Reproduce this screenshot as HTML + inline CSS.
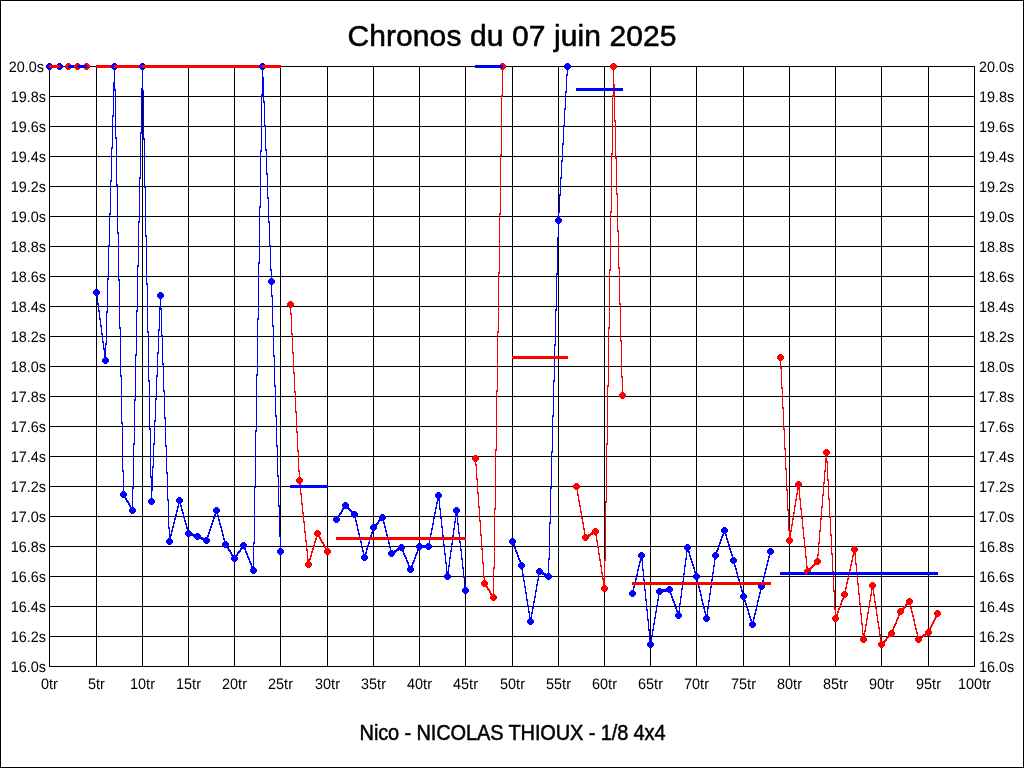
<!DOCTYPE html><html><head><meta charset="utf-8"><style>html,body{margin:0;padding:0;background:#fff;}svg{display:block}text{font-family:"Liberation Sans",sans-serif;fill:#000}</style></head><body>
<svg width="1024" height="768" viewBox="0 0 1024 768" style="will-change:transform">
<rect x="0" y="0" width="1024" height="768" fill="#fff"/>
<path d="M0 0h1024v1H0zM0 767h1024v1H0zM0 0h1v768H0zM1023 0h1v768h-1z" fill="#000"/>
<path d="M49 66h1v601h-1zM96 66h1v601h-1zM142 66h1v601h-1zM188 66h1v601h-1zM234 66h1v601h-1zM280 66h1v601h-1zM327 66h1v601h-1zM373 66h1v601h-1zM419 66h1v601h-1zM465 66h1v601h-1zM512 66h1v601h-1zM558 66h1v601h-1zM604 66h1v601h-1zM650 66h1v601h-1zM696 66h1v601h-1zM743 66h1v601h-1zM789 66h1v601h-1zM835 66h1v601h-1zM881 66h1v601h-1zM928 66h1v601h-1zM974 66h1v601h-1zM49 66h926v1h-926zM49 96h926v1h-926zM49 126h926v1h-926zM49 156h926v1h-926zM49 186h926v1h-926zM49 216h926v1h-926zM49 246h926v1h-926zM49 276h926v1h-926zM49 306h926v1h-926zM49 336h926v1h-926zM49 366h926v1h-926zM49 396h926v1h-926zM49 426h926v1h-926zM49 456h926v1h-926zM49 486h926v1h-926zM49 516h926v1h-926zM49 546h926v1h-926zM49 576h926v1h-926zM49 606h926v1h-926zM49 636h926v1h-926zM49 666h926v1h-926z" fill="#000"/>
<text text-rendering="geometricPrecision" transform="translate(44,72) scale(0.95,1.0)" font-size="15.2" text-anchor="end">20.0s</text>
<text text-rendering="geometricPrecision" transform="translate(979,72) scale(0.95,1.0)" font-size="15.2" text-anchor="start">20.0s</text>
<text text-rendering="geometricPrecision" transform="translate(46,102) scale(0.95,1.0)" font-size="15.2" text-anchor="end">19.8s</text>
<text text-rendering="geometricPrecision" transform="translate(979,102) scale(0.95,1.0)" font-size="15.2" text-anchor="start">19.8s</text>
<text text-rendering="geometricPrecision" transform="translate(46,132) scale(0.95,1.0)" font-size="15.2" text-anchor="end">19.6s</text>
<text text-rendering="geometricPrecision" transform="translate(979,132) scale(0.95,1.0)" font-size="15.2" text-anchor="start">19.6s</text>
<text text-rendering="geometricPrecision" transform="translate(46,162) scale(0.95,1.0)" font-size="15.2" text-anchor="end">19.4s</text>
<text text-rendering="geometricPrecision" transform="translate(979,162) scale(0.95,1.0)" font-size="15.2" text-anchor="start">19.4s</text>
<text text-rendering="geometricPrecision" transform="translate(46,192) scale(0.95,1.0)" font-size="15.2" text-anchor="end">19.2s</text>
<text text-rendering="geometricPrecision" transform="translate(979,192) scale(0.95,1.0)" font-size="15.2" text-anchor="start">19.2s</text>
<text text-rendering="geometricPrecision" transform="translate(46,222) scale(0.95,1.0)" font-size="15.2" text-anchor="end">19.0s</text>
<text text-rendering="geometricPrecision" transform="translate(979,222) scale(0.95,1.0)" font-size="15.2" text-anchor="start">19.0s</text>
<text text-rendering="geometricPrecision" transform="translate(46,252) scale(0.95,1.0)" font-size="15.2" text-anchor="end">18.8s</text>
<text text-rendering="geometricPrecision" transform="translate(979,252) scale(0.95,1.0)" font-size="15.2" text-anchor="start">18.8s</text>
<text text-rendering="geometricPrecision" transform="translate(46,282) scale(0.95,1.0)" font-size="15.2" text-anchor="end">18.6s</text>
<text text-rendering="geometricPrecision" transform="translate(979,282) scale(0.95,1.0)" font-size="15.2" text-anchor="start">18.6s</text>
<text text-rendering="geometricPrecision" transform="translate(46,312) scale(0.95,1.0)" font-size="15.2" text-anchor="end">18.4s</text>
<text text-rendering="geometricPrecision" transform="translate(979,312) scale(0.95,1.0)" font-size="15.2" text-anchor="start">18.4s</text>
<text text-rendering="geometricPrecision" transform="translate(46,342) scale(0.95,1.0)" font-size="15.2" text-anchor="end">18.2s</text>
<text text-rendering="geometricPrecision" transform="translate(979,342) scale(0.95,1.0)" font-size="15.2" text-anchor="start">18.2s</text>
<text text-rendering="geometricPrecision" transform="translate(46,372) scale(0.95,1.0)" font-size="15.2" text-anchor="end">18.0s</text>
<text text-rendering="geometricPrecision" transform="translate(979,372) scale(0.95,1.0)" font-size="15.2" text-anchor="start">18.0s</text>
<text text-rendering="geometricPrecision" transform="translate(46,402) scale(0.95,1.0)" font-size="15.2" text-anchor="end">17.8s</text>
<text text-rendering="geometricPrecision" transform="translate(979,402) scale(0.95,1.0)" font-size="15.2" text-anchor="start">17.8s</text>
<text text-rendering="geometricPrecision" transform="translate(46,432) scale(0.95,1.0)" font-size="15.2" text-anchor="end">17.6s</text>
<text text-rendering="geometricPrecision" transform="translate(979,432) scale(0.95,1.0)" font-size="15.2" text-anchor="start">17.6s</text>
<text text-rendering="geometricPrecision" transform="translate(46,462) scale(0.95,1.0)" font-size="15.2" text-anchor="end">17.4s</text>
<text text-rendering="geometricPrecision" transform="translate(979,462) scale(0.95,1.0)" font-size="15.2" text-anchor="start">17.4s</text>
<text text-rendering="geometricPrecision" transform="translate(46,492) scale(0.95,1.0)" font-size="15.2" text-anchor="end">17.2s</text>
<text text-rendering="geometricPrecision" transform="translate(979,492) scale(0.95,1.0)" font-size="15.2" text-anchor="start">17.2s</text>
<text text-rendering="geometricPrecision" transform="translate(46,522) scale(0.95,1.0)" font-size="15.2" text-anchor="end">17.0s</text>
<text text-rendering="geometricPrecision" transform="translate(979,522) scale(0.95,1.0)" font-size="15.2" text-anchor="start">17.0s</text>
<text text-rendering="geometricPrecision" transform="translate(46,552) scale(0.95,1.0)" font-size="15.2" text-anchor="end">16.8s</text>
<text text-rendering="geometricPrecision" transform="translate(979,552) scale(0.95,1.0)" font-size="15.2" text-anchor="start">16.8s</text>
<text text-rendering="geometricPrecision" transform="translate(46,582) scale(0.95,1.0)" font-size="15.2" text-anchor="end">16.6s</text>
<text text-rendering="geometricPrecision" transform="translate(979,582) scale(0.95,1.0)" font-size="15.2" text-anchor="start">16.6s</text>
<text text-rendering="geometricPrecision" transform="translate(46,612) scale(0.95,1.0)" font-size="15.2" text-anchor="end">16.4s</text>
<text text-rendering="geometricPrecision" transform="translate(979,612) scale(0.95,1.0)" font-size="15.2" text-anchor="start">16.4s</text>
<text text-rendering="geometricPrecision" transform="translate(46,642) scale(0.95,1.0)" font-size="15.2" text-anchor="end">16.2s</text>
<text text-rendering="geometricPrecision" transform="translate(979,642) scale(0.95,1.0)" font-size="15.2" text-anchor="start">16.2s</text>
<text text-rendering="geometricPrecision" transform="translate(46,672) scale(0.95,1.0)" font-size="15.2" text-anchor="end">16.0s</text>
<text text-rendering="geometricPrecision" transform="translate(979,672) scale(0.95,1.0)" font-size="15.2" text-anchor="start">16.0s</text>
<text text-rendering="geometricPrecision" transform="translate(49.5,689) scale(0.95,1.0)" font-size="15.2" text-anchor="middle">0tr</text>
<text text-rendering="geometricPrecision" transform="translate(96.5,689) scale(0.95,1.0)" font-size="15.2" text-anchor="middle">5tr</text>
<text text-rendering="geometricPrecision" transform="translate(142.5,689) scale(0.95,1.0)" font-size="15.2" text-anchor="middle">10tr</text>
<text text-rendering="geometricPrecision" transform="translate(188.5,689) scale(0.95,1.0)" font-size="15.2" text-anchor="middle">15tr</text>
<text text-rendering="geometricPrecision" transform="translate(234.5,689) scale(0.95,1.0)" font-size="15.2" text-anchor="middle">20tr</text>
<text text-rendering="geometricPrecision" transform="translate(280.5,689) scale(0.95,1.0)" font-size="15.2" text-anchor="middle">25tr</text>
<text text-rendering="geometricPrecision" transform="translate(327.5,689) scale(0.95,1.0)" font-size="15.2" text-anchor="middle">30tr</text>
<text text-rendering="geometricPrecision" transform="translate(373.5,689) scale(0.95,1.0)" font-size="15.2" text-anchor="middle">35tr</text>
<text text-rendering="geometricPrecision" transform="translate(419.5,689) scale(0.95,1.0)" font-size="15.2" text-anchor="middle">40tr</text>
<text text-rendering="geometricPrecision" transform="translate(465.5,689) scale(0.95,1.0)" font-size="15.2" text-anchor="middle">45tr</text>
<text text-rendering="geometricPrecision" transform="translate(512.5,689) scale(0.95,1.0)" font-size="15.2" text-anchor="middle">50tr</text>
<text text-rendering="geometricPrecision" transform="translate(558.5,689) scale(0.95,1.0)" font-size="15.2" text-anchor="middle">55tr</text>
<text text-rendering="geometricPrecision" transform="translate(604.5,689) scale(0.95,1.0)" font-size="15.2" text-anchor="middle">60tr</text>
<text text-rendering="geometricPrecision" transform="translate(650.5,689) scale(0.95,1.0)" font-size="15.2" text-anchor="middle">65tr</text>
<text text-rendering="geometricPrecision" transform="translate(696.5,689) scale(0.95,1.0)" font-size="15.2" text-anchor="middle">70tr</text>
<text text-rendering="geometricPrecision" transform="translate(743.5,689) scale(0.95,1.0)" font-size="15.2" text-anchor="middle">75tr</text>
<text text-rendering="geometricPrecision" transform="translate(789.5,689) scale(0.95,1.0)" font-size="15.2" text-anchor="middle">80tr</text>
<text text-rendering="geometricPrecision" transform="translate(835.5,689) scale(0.95,1.0)" font-size="15.2" text-anchor="middle">85tr</text>
<text text-rendering="geometricPrecision" transform="translate(881.5,689) scale(0.95,1.0)" font-size="15.2" text-anchor="middle">90tr</text>
<text text-rendering="geometricPrecision" transform="translate(928.5,689) scale(0.95,1.0)" font-size="15.2" text-anchor="middle">95tr</text>
<text text-rendering="geometricPrecision" transform="translate(974.5,689) scale(0.95,1.0)" font-size="15.2" text-anchor="middle">100tr</text>
<text transform="translate(512,46)" font-size="30" text-anchor="middle" letter-spacing="0.1" stroke="#000" stroke-width="0.55">Chronos du 07 juin 2025</text>
<text transform="translate(512.5,740) scale(1,1.07)" font-size="20" text-anchor="middle" letter-spacing="-0.12" stroke="#000" stroke-width="0.45">Nico - NICOLAS THIOUX - 1/8 4x4</text>
<path d="M49 65h1v3h-1zM50 65h1v3h-1zM51 65h1v3h-1zM52 65h1v3h-1zM53 65h1v3h-1zM54 65h1v3h-1zM55 65h1v3h-1zM56 65h1v3h-1zM57 65h1v3h-1zM58 65h1v3h-1zM59 65h1v3h-1z" fill="#0000ff"/>
<path d="M48 63h3v1h1v1h1v3h-1v1h-1v1h-3v-1h-1v-1h-1v-3h1v-1h1zM58 63h3v1h1v1h1v3h-1v1h-1v1h-3v-1h-1v-1h-1v-3h1v-1h1z" fill="#0000ff"/>
<path d="M68 65h1v3h-1zM69 65h1v3h-1zM70 65h1v3h-1zM71 65h1v3h-1zM72 65h1v3h-1zM73 65h1v3h-1zM74 65h1v3h-1zM75 65h1v3h-1zM76 65h1v3h-1zM77 65h1v3h-1zM78 65h1v3h-1zM79 65h1v3h-1zM80 65h1v3h-1zM81 65h1v3h-1zM82 65h1v3h-1zM83 65h1v3h-1zM84 65h1v3h-1zM85 65h1v3h-1zM86 65h1v3h-1z" fill="#ff0000"/>
<path d="M67 63h3v1h1v1h1v3h-1v1h-1v1h-3v-1h-1v-1h-1v-3h1v-1h1zM76 63h3v1h1v1h1v3h-1v1h-1v1h-3v-1h-1v-1h-1v-3h1v-1h1zM85 63h3v1h1v1h1v3h-1v1h-1v1h-3v-1h-1v-1h-1v-3h1v-1h1z" fill="#ff0000"/>
<path d="M96 291h1v6h-1zM97 295h1v10h-1zM98 303h1v9h-1zM99 310h1v10h-1zM100 318h1v9h-1zM101 325h1v10h-1zM102 333h1v10h-1zM103 341h1v9h-1zM104 348h1v10h-1zM105 343h1v19h-1zM106 311h1v34h-1zM107 278h1v35h-1zM108 245h1v35h-1zM109 213h1v34h-1zM110 180h1v35h-1zM111 147h1v35h-1zM112 115h1v34h-1zM113 82h1v35h-1zM114 65h1v26h-1zM115 89h1v50h-1zM116 137h1v49h-1zM117 184h1v50h-1zM118 232h1v49h-1zM119 279h1v50h-1zM120 327h1v50h-1zM121 375h1v49h-1zM122 422h1v50h-1zM123 470h1v26h-1zM124 494h1v4h-1zM125 496h1v4h-1zM126 498h1v4h-1zM127 500h1v3h-1zM128 501h1v4h-1zM129 503h1v4h-1zM130 505h1v4h-1zM131 507h1v4h-1zM132 487h1v25h-1zM133 443h1v46h-1zM134 399h1v46h-1zM135 354h1v47h-1zM136 310h1v46h-1zM137 265h1v47h-1zM138 221h1v46h-1zM139 177h1v46h-1zM140 132h1v47h-1zM141 88h1v46h-1zM142 65h1v27h-1zM143 90h1v50h-1zM144 138h1v50h-1zM145 186h1v51h-1zM146 235h1v50h-1zM147 283h1v50h-1zM148 331h1v51h-1zM149 380h1v50h-1zM150 428h1v50h-1zM151 476h1v27h-1zM152 466h1v25h-1zM153 443h1v25h-1zM154 420h1v25h-1zM155 398h1v24h-1zM156 375h1v25h-1zM157 352h1v25h-1zM158 329h1v25h-1zM159 306h1v25h-1zM160 294h1v16h-1zM161 308h1v29h-1zM162 335h1v30h-1zM163 363h1v29h-1zM164 390h1v29h-1zM165 417h1v30h-1zM166 445h1v29h-1zM167 472h1v29h-1zM168 499h1v30h-1zM169 527h1v16h-1zM170 534h1v6h-1zM171 530h1v6h-1zM172 526h1v6h-1zM173 522h1v6h-1zM174 518h1v6h-1zM175 514h1v6h-1zM176 510h1v6h-1zM177 506h1v6h-1zM178 502h1v6h-1zM179 499h1v5h-1zM180 501h1v6h-1zM181 505h1v6h-1zM182 509h1v5h-1zM183 512h1v6h-1zM184 516h1v6h-1zM185 520h1v5h-1zM186 523h1v6h-1zM187 527h1v6h-1zM188 531h1v4h-1zM189 532h1v3h-1zM190 533h1v3h-1zM191 533h1v3h-1zM192 533h1v3h-1zM193 534h1v3h-1zM194 534h1v3h-1zM195 534h1v3h-1zM196 535h1v3h-1zM197 535h1v3h-1zM198 535h1v3h-1zM199 536h1v3h-1zM200 536h1v3h-1zM201 537h1v3h-1zM202 537h1v3h-1zM203 538h1v3h-1zM204 538h1v3h-1zM205 539h1v3h-1zM206 538h1v4h-1zM207 535h1v5h-1zM208 532h1v5h-1zM209 529h1v5h-1zM210 526h1v5h-1zM211 523h1v5h-1zM212 520h1v5h-1zM213 517h1v5h-1zM214 514h1v5h-1zM215 511h1v5h-1zM216 509h1v4h-1zM217 511h1v6h-1zM218 515h1v6h-1zM219 519h1v6h-1zM220 523h1v5h-1zM221 526h1v6h-1zM222 530h1v6h-1zM223 534h1v6h-1zM224 538h1v6h-1zM225 542h1v4h-1zM226 544h1v4h-1zM227 546h1v3h-1zM228 547h1v4h-1zM229 549h1v3h-1zM230 550h1v4h-1zM231 552h1v4h-1zM232 554h1v3h-1zM233 555h1v4h-1zM234 557h1v3h-1zM235 555h1v4h-1zM236 554h1v3h-1zM237 552h1v4h-1zM238 551h1v3h-1zM239 550h1v3h-1zM240 548h1v4h-1zM241 547h1v3h-1zM242 545h1v4h-1zM243 544h1v4h-1zM244 546h1v4h-1zM245 548h1v5h-1zM246 551h1v4h-1zM247 553h1v5h-1zM248 556h1v4h-1zM249 558h1v5h-1zM250 561h1v4h-1zM251 563h1v5h-1zM252 566h1v4h-1zM253 542h1v30h-1zM254 486h1v58h-1zM255 430h1v58h-1zM256 374h1v58h-1zM257 318h1v58h-1zM258 262h1v58h-1zM259 206h1v58h-1zM260 150h1v58h-1zM261 94h1v58h-1zM262 65h1v31h-1zM263 77h1v26h-1zM264 101h1v26h-1zM265 125h1v26h-1zM266 149h1v26h-1zM267 173h1v26h-1zM268 197h1v26h-1zM269 221h1v26h-1zM270 245h1v26h-1zM271 269h1v28h-1zM272 295h1v32h-1zM273 325h1v32h-1zM274 355h1v32h-1zM275 385h1v32h-1zM276 415h1v32h-1zM277 445h1v32h-1zM278 475h1v32h-1zM279 505h1v32h-1zM280 535h1v18h-1z" fill="#0000ff"/>
<path d="M95 289h3v1h1v1h1v3h-1v1h-1v1h-3v-1h-1v-1h-1v-3h1v-1h1zM104 357h3v1h1v1h1v3h-1v1h-1v1h-3v-1h-1v-1h-1v-3h1v-1h1zM113 63h3v1h1v1h1v3h-1v1h-1v1h-3v-1h-1v-1h-1v-3h1v-1h1zM122 491h3v1h1v1h1v3h-1v1h-1v1h-3v-1h-1v-1h-1v-3h1v-1h1zM131 507h3v1h1v1h1v3h-1v1h-1v1h-3v-1h-1v-1h-1v-3h1v-1h1zM141 63h3v1h1v1h1v3h-1v1h-1v1h-3v-1h-1v-1h-1v-3h1v-1h1zM150 498h3v1h1v1h1v3h-1v1h-1v1h-3v-1h-1v-1h-1v-3h1v-1h1zM159 292h3v1h1v1h1v3h-1v1h-1v1h-3v-1h-1v-1h-1v-3h1v-1h1zM168 538h3v1h1v1h1v3h-1v1h-1v1h-3v-1h-1v-1h-1v-3h1v-1h1zM178 497h3v1h1v1h1v3h-1v1h-1v1h-3v-1h-1v-1h-1v-3h1v-1h1zM187 530h3v1h1v1h1v3h-1v1h-1v1h-3v-1h-1v-1h-1v-3h1v-1h1zM196 533h3v1h1v1h1v3h-1v1h-1v1h-3v-1h-1v-1h-1v-3h1v-1h1zM205 537h3v1h1v1h1v3h-1v1h-1v1h-3v-1h-1v-1h-1v-3h1v-1h1zM215 507h3v1h1v1h1v3h-1v1h-1v1h-3v-1h-1v-1h-1v-3h1v-1h1zM224 541h3v1h1v1h1v3h-1v1h-1v1h-3v-1h-1v-1h-1v-3h1v-1h1zM233 555h3v1h1v1h1v3h-1v1h-1v1h-3v-1h-1v-1h-1v-3h1v-1h1zM242 542h3v1h1v1h1v3h-1v1h-1v1h-3v-1h-1v-1h-1v-3h1v-1h1zM252 567h3v1h1v1h1v3h-1v1h-1v1h-3v-1h-1v-1h-1v-3h1v-1h1zM261 63h3v1h1v1h1v3h-1v1h-1v1h-3v-1h-1v-1h-1v-3h1v-1h1zM270 278h3v1h1v1h1v3h-1v1h-1v1h-3v-1h-1v-1h-1v-3h1v-1h1zM279 548h3v1h1v1h1v3h-1v1h-1v1h-3v-1h-1v-1h-1v-3h1v-1h1z" fill="#0000ff"/>
<path d="M290 303h1v12h-1zM291 313h1v22h-1zM292 333h1v21h-1zM293 352h1v22h-1zM294 372h1v21h-1zM295 391h1v22h-1zM296 411h1v22h-1zM297 431h1v21h-1zM298 450h1v22h-1zM299 470h1v16h-1zM300 484h1v11h-1zM301 493h1v12h-1zM302 503h1v11h-1zM303 512h1v11h-1zM304 521h1v12h-1zM305 531h1v11h-1zM306 540h1v11h-1zM307 549h1v12h-1zM308 559h1v7h-1zM309 558h1v6h-1zM310 555h1v5h-1zM311 551h1v6h-1zM312 548h1v5h-1zM313 545h1v5h-1zM314 541h1v6h-1zM315 538h1v5h-1zM316 534h1v6h-1zM317 532h1v4h-1zM318 533h1v4h-1zM319 535h1v4h-1zM320 537h1v4h-1zM321 539h1v4h-1zM322 541h1v3h-1zM323 542h1v4h-1zM324 544h1v4h-1zM325 546h1v4h-1zM326 548h1v4h-1zM327 550h1v3h-1z" fill="#ff0000"/>
<path d="M289 301h3v1h1v1h1v3h-1v1h-1v1h-3v-1h-1v-1h-1v-3h1v-1h1zM298 477h3v1h1v1h1v3h-1v1h-1v1h-3v-1h-1v-1h-1v-3h1v-1h1zM307 561h3v1h1v1h1v3h-1v1h-1v1h-3v-1h-1v-1h-1v-3h1v-1h1zM316 530h3v1h1v1h1v3h-1v1h-1v1h-3v-1h-1v-1h-1v-3h1v-1h1zM326 548h3v1h1v1h1v3h-1v1h-1v1h-3v-1h-1v-1h-1v-3h1v-1h1z" fill="#ff0000"/>
<path d="M336 518h1v3h-1zM337 516h1v4h-1zM338 515h1v3h-1zM339 513h1v4h-1zM340 512h1v3h-1zM341 510h1v4h-1zM342 508h1v4h-1zM343 507h1v3h-1zM344 505h1v4h-1zM345 504h1v3h-1zM346 505h1v3h-1zM347 506h1v3h-1zM348 507h1v3h-1zM349 508h1v3h-1zM350 509h1v3h-1zM351 510h1v3h-1zM352 511h1v3h-1zM353 512h1v3h-1zM354 513h1v5h-1zM355 516h1v6h-1zM356 520h1v6h-1zM357 524h1v7h-1zM358 529h1v6h-1zM359 533h1v6h-1zM360 537h1v6h-1zM361 541h1v7h-1zM362 546h1v6h-1zM363 550h1v6h-1zM364 554h1v5h-1zM365 552h1v5h-1zM366 548h1v6h-1zM367 545h1v5h-1zM368 542h1v5h-1zM369 538h1v6h-1zM370 535h1v5h-1zM371 532h1v5h-1zM372 528h1v6h-1zM373 526h1v4h-1zM374 525h1v3h-1zM375 524h1v3h-1zM376 523h1v3h-1zM377 522h1v3h-1zM378 520h1v4h-1zM379 519h1v3h-1zM380 518h1v3h-1zM381 517h1v3h-1zM382 516h1v4h-1zM383 518h1v6h-1zM384 522h1v6h-1zM385 526h1v6h-1zM386 530h1v6h-1zM387 534h1v6h-1zM388 538h1v6h-1zM389 542h1v6h-1zM390 546h1v6h-1zM391 550h1v5h-1zM392 551h1v3h-1zM393 551h1v3h-1zM394 550h1v3h-1zM395 550h1v3h-1zM396 549h1v3h-1zM397 548h1v3h-1zM398 548h1v3h-1zM399 547h1v3h-1zM400 547h1v3h-1zM401 546h1v4h-1zM402 548h1v4h-1zM403 550h1v5h-1zM404 553h1v4h-1zM405 555h1v4h-1zM406 557h1v5h-1zM407 560h1v4h-1zM408 562h1v5h-1zM409 565h1v4h-1zM410 567h1v4h-1zM411 565h1v4h-1zM412 562h1v5h-1zM413 560h1v4h-1zM414 557h1v5h-1zM415 554h1v5h-1zM416 552h1v4h-1zM417 549h1v5h-1zM418 547h1v4h-1zM419 545h1v4h-1zM420 545h1v3h-1zM421 545h1v3h-1zM422 545h1v3h-1zM423 545h1v3h-1zM424 545h1v3h-1zM425 545h1v3h-1zM426 545h1v3h-1zM427 545h1v3h-1zM428 543h1v5h-1zM429 538h1v7h-1zM430 533h1v7h-1zM431 528h1v7h-1zM432 523h1v7h-1zM433 517h1v8h-1zM434 512h1v7h-1zM435 507h1v7h-1zM436 502h1v7h-1zM437 497h1v7h-1zM438 494h1v7h-1zM439 499h1v11h-1zM440 508h1v11h-1zM441 517h1v11h-1zM442 526h1v11h-1zM443 535h1v11h-1zM444 544h1v11h-1zM445 553h1v11h-1zM446 562h1v11h-1zM447 571h1v7h-1zM448 565h1v9h-1zM449 557h1v10h-1zM450 550h1v9h-1zM451 543h1v9h-1zM452 535h1v10h-1zM453 528h1v9h-1zM454 521h1v9h-1zM455 513h1v10h-1zM456 509h1v7h-1zM457 514h1v11h-1zM458 523h1v11h-1zM459 532h1v11h-1zM460 541h1v10h-1zM461 549h1v11h-1zM462 558h1v11h-1zM463 567h1v11h-1zM464 576h1v11h-1zM465 585h1v7h-1z" fill="#0000ff"/>
<path d="M335 516h3v1h1v1h1v3h-1v1h-1v1h-3v-1h-1v-1h-1v-3h1v-1h1zM344 502h3v1h1v1h1v3h-1v1h-1v1h-3v-1h-1v-1h-1v-3h1v-1h1zM353 511h3v1h1v1h1v3h-1v1h-1v1h-3v-1h-1v-1h-1v-3h1v-1h1zM363 554h3v1h1v1h1v3h-1v1h-1v1h-3v-1h-1v-1h-1v-3h1v-1h1zM372 524h3v1h1v1h1v3h-1v1h-1v1h-3v-1h-1v-1h-1v-3h1v-1h1zM381 514h3v1h1v1h1v3h-1v1h-1v1h-3v-1h-1v-1h-1v-3h1v-1h1zM390 550h3v1h1v1h1v3h-1v1h-1v1h-3v-1h-1v-1h-1v-3h1v-1h1zM400 544h3v1h1v1h1v3h-1v1h-1v1h-3v-1h-1v-1h-1v-3h1v-1h1zM409 566h3v1h1v1h1v3h-1v1h-1v1h-3v-1h-1v-1h-1v-3h1v-1h1zM418 543h3v1h1v1h1v3h-1v1h-1v1h-3v-1h-1v-1h-1v-3h1v-1h1zM427 543h3v1h1v1h1v3h-1v1h-1v1h-3v-1h-1v-1h-1v-3h1v-1h1zM437 492h3v1h1v1h1v3h-1v1h-1v1h-3v-1h-1v-1h-1v-3h1v-1h1zM446 573h3v1h1v1h1v3h-1v1h-1v1h-3v-1h-1v-1h-1v-3h1v-1h1zM455 507h3v1h1v1h1v3h-1v1h-1v1h-3v-1h-1v-1h-1v-3h1v-1h1zM464 587h3v1h1v1h1v3h-1v1h-1v1h-3v-1h-1v-1h-1v-3h1v-1h1z" fill="#0000ff"/>
<path d="M475 457h1v9h-1zM476 464h1v16h-1zM477 478h1v16h-1zM478 492h1v16h-1zM479 506h1v16h-1zM480 520h1v16h-1zM481 534h1v16h-1zM482 548h1v16h-1zM483 562h1v16h-1zM484 576h1v9h-1zM485 583h1v4h-1zM486 585h1v3h-1zM487 586h1v4h-1zM488 588h1v3h-1zM489 589h1v4h-1zM490 591h1v4h-1zM491 593h1v3h-1zM492 594h1v4h-1zM493 567h1v32h-1zM494 508h1v61h-1zM495 449h1v61h-1zM496 390h1v61h-1zM497 331h1v61h-1zM498 272h1v61h-1zM499 213h1v61h-1zM500 154h1v61h-1zM501 95h1v61h-1zM502 65h1v32h-1z" fill="#ff0000"/>
<path d="M474 455h3v1h1v1h1v3h-1v1h-1v1h-3v-1h-1v-1h-1v-3h1v-1h1zM483 580h3v1h1v1h1v3h-1v1h-1v1h-3v-1h-1v-1h-1v-3h1v-1h1zM492 594h3v1h1v1h1v3h-1v1h-1v1h-3v-1h-1v-1h-1v-3h1v-1h1zM501 63h3v1h1v1h1v3h-1v1h-1v1h-3v-1h-1v-1h-1v-3h1v-1h1z" fill="#ff0000"/>
<path d="M512 540h1v4h-1zM513 542h1v4h-1zM514 544h1v5h-1zM515 547h1v5h-1zM516 550h1v4h-1zM517 552h1v5h-1zM518 555h1v5h-1zM519 558h1v4h-1zM520 560h1v5h-1zM521 563h1v7h-1zM522 568h1v8h-1zM523 574h1v8h-1zM524 580h1v8h-1zM525 586h1v8h-1zM526 592h1v9h-1zM527 599h1v8h-1zM528 605h1v8h-1zM529 611h1v8h-1zM530 617h1v6h-1zM531 612h1v8h-1zM532 607h1v7h-1zM533 601h1v8h-1zM534 596h1v7h-1zM535 590h1v8h-1zM536 584h1v8h-1zM537 579h1v7h-1zM538 573h1v8h-1zM539 570h1v5h-1zM540 571h1v3h-1zM541 571h1v3h-1zM542 572h1v3h-1zM543 572h1v3h-1zM544 573h1v3h-1zM545 573h1v3h-1zM546 574h1v3h-1zM547 574h1v3h-1zM548 558h1v20h-1zM549 522h1v38h-1zM550 487h1v37h-1zM551 451h1v38h-1zM552 415h1v38h-1zM553 380h1v37h-1zM554 344h1v38h-1zM555 309h1v37h-1zM556 273h1v38h-1zM557 237h1v38h-1zM558 211h1v28h-1zM559 194h1v19h-1zM560 177h1v19h-1zM561 160h1v19h-1zM562 143h1v19h-1zM563 125h1v20h-1zM564 108h1v19h-1zM565 91h1v19h-1zM566 74h1v19h-1zM567 65h1v11h-1z" fill="#0000ff"/>
<path d="M511 538h3v1h1v1h1v3h-1v1h-1v1h-3v-1h-1v-1h-1v-3h1v-1h1zM520 562h3v1h1v1h1v3h-1v1h-1v1h-3v-1h-1v-1h-1v-3h1v-1h1zM529 618h3v1h1v1h1v3h-1v1h-1v1h-3v-1h-1v-1h-1v-3h1v-1h1zM538 568h3v1h1v1h1v3h-1v1h-1v1h-3v-1h-1v-1h-1v-3h1v-1h1zM547 573h3v1h1v1h1v3h-1v1h-1v1h-3v-1h-1v-1h-1v-3h1v-1h1zM557 217h3v1h1v1h1v3h-1v1h-1v1h-3v-1h-1v-1h-1v-3h1v-1h1zM566 63h3v1h1v1h1v3h-1v1h-1v1h-3v-1h-1v-1h-1v-3h1v-1h1z" fill="#0000ff"/>
<path d="M576 485h1v5h-1zM577 488h1v8h-1zM578 494h1v8h-1zM579 500h1v7h-1zM580 505h1v8h-1zM581 511h1v8h-1zM582 517h1v7h-1zM583 522h1v8h-1zM584 528h1v8h-1zM585 534h1v5h-1zM586 535h1v3h-1zM587 535h1v3h-1zM588 534h1v3h-1zM589 534h1v3h-1zM590 533h1v3h-1zM591 532h1v3h-1zM592 532h1v3h-1zM593 531h1v3h-1zM594 531h1v3h-1zM595 530h1v6h-1zM596 534h1v8h-1zM597 540h1v8h-1zM598 546h1v9h-1zM599 553h1v8h-1zM600 559h1v8h-1zM601 565h1v9h-1zM602 572h1v8h-1zM603 578h1v8h-1zM604 559h1v31h-1zM605 501h1v60h-1zM606 443h1v60h-1zM607 385h1v60h-1zM608 327h1v60h-1zM609 269h1v60h-1zM610 211h1v60h-1zM611 153h1v60h-1zM612 95h1v60h-1zM613 65h1v32h-1zM614 84h1v38h-1zM615 120h1v39h-1zM616 157h1v38h-1zM617 193h1v39h-1zM618 230h1v39h-1zM619 267h1v38h-1zM620 303h1v39h-1zM621 340h1v38h-1zM622 376h1v21h-1z" fill="#ff0000"/>
<path d="M575 483h3v1h1v1h1v3h-1v1h-1v1h-3v-1h-1v-1h-1v-3h1v-1h1zM584 534h3v1h1v1h1v3h-1v1h-1v1h-3v-1h-1v-1h-1v-3h1v-1h1zM594 528h3v1h1v1h1v3h-1v1h-1v1h-3v-1h-1v-1h-1v-3h1v-1h1zM603 585h3v1h1v1h1v3h-1v1h-1v1h-3v-1h-1v-1h-1v-3h1v-1h1zM612 63h3v1h1v1h1v3h-1v1h-1v1h-3v-1h-1v-1h-1v-3h1v-1h1zM621 392h3v1h1v1h1v3h-1v1h-1v1h-3v-1h-1v-1h-1v-3h1v-1h1z" fill="#ff0000"/>
<path d="M632 590h1v5h-1zM633 586h1v6h-1zM634 582h1v6h-1zM635 578h1v6h-1zM636 574h1v6h-1zM637 569h1v7h-1zM638 565h1v6h-1zM639 561h1v6h-1zM640 557h1v6h-1zM641 554h1v7h-1zM642 559h1v12h-1zM643 569h1v12h-1zM644 579h1v12h-1zM645 589h1v12h-1zM646 599h1v12h-1zM647 609h1v12h-1zM648 619h1v12h-1zM649 629h1v12h-1zM650 639h1v7h-1zM651 635h1v8h-1zM652 629h1v8h-1zM653 623h1v8h-1zM654 617h1v8h-1zM655 611h1v8h-1zM656 605h1v8h-1zM657 599h1v8h-1zM658 593h1v8h-1zM659 590h1v5h-1zM660 590h1v3h-1zM661 590h1v3h-1zM662 589h1v3h-1zM663 589h1v3h-1zM664 589h1v3h-1zM665 589h1v3h-1zM666 589h1v3h-1zM667 588h1v3h-1zM668 588h1v3h-1zM669 588h1v4h-1zM670 590h1v5h-1zM671 593h1v5h-1zM672 596h1v5h-1zM673 599h1v4h-1zM674 601h1v5h-1zM675 604h1v5h-1zM676 607h1v5h-1zM677 610h1v5h-1zM678 611h1v6h-1zM679 603h1v10h-1zM680 596h1v9h-1zM681 588h1v10h-1zM682 581h1v9h-1zM683 573h1v10h-1zM684 565h1v10h-1zM685 558h1v9h-1zM686 550h1v10h-1zM687 546h1v6h-1zM688 548h1v5h-1zM689 551h1v6h-1zM690 555h1v5h-1zM691 558h1v5h-1zM692 561h1v5h-1zM693 564h1v5h-1zM694 567h1v6h-1zM695 571h1v5h-1zM696 574h1v6h-1zM697 578h1v6h-1zM698 582h1v6h-1zM699 586h1v6h-1zM700 590h1v6h-1zM701 594h1v7h-1zM702 599h1v6h-1zM703 603h1v6h-1zM704 607h1v6h-1zM705 611h1v6h-1zM706 614h1v6h-1zM707 607h1v9h-1zM708 600h1v9h-1zM709 593h1v9h-1zM710 586h1v9h-1zM711 579h1v9h-1zM712 572h1v9h-1zM713 565h1v9h-1zM714 558h1v9h-1zM715 553h1v7h-1zM716 550h1v5h-1zM717 548h1v4h-1zM718 545h1v5h-1zM719 542h1v5h-1zM720 539h1v5h-1zM721 536h1v5h-1zM722 534h1v4h-1zM723 531h1v5h-1zM724 529h1v4h-1zM725 531h1v5h-1zM726 534h1v6h-1zM727 538h1v5h-1zM728 541h1v5h-1zM729 544h1v6h-1zM730 548h1v5h-1zM731 551h1v5h-1zM732 554h1v6h-1zM733 558h1v5h-1zM734 561h1v6h-1zM735 565h1v5h-1zM736 568h1v6h-1zM737 572h1v6h-1zM738 576h1v5h-1zM739 579h1v6h-1zM740 583h1v5h-1zM741 586h1v6h-1zM742 590h1v6h-1zM743 594h1v5h-1zM744 597h1v5h-1zM745 600h1v5h-1zM746 603h1v5h-1zM747 606h1v5h-1zM748 609h1v6h-1zM749 613h1v5h-1zM750 616h1v5h-1zM751 619h1v5h-1zM752 621h1v5h-1zM753 617h1v6h-1zM754 613h1v6h-1zM755 609h1v6h-1zM756 605h1v6h-1zM757 600h1v7h-1zM758 596h1v6h-1zM759 592h1v6h-1zM760 588h1v6h-1zM761 584h1v6h-1zM762 580h1v6h-1zM763 576h1v6h-1zM764 572h1v6h-1zM765 568h1v6h-1zM766 564h1v6h-1zM767 560h1v6h-1zM768 556h1v6h-1zM769 552h1v6h-1zM770 550h1v4h-1z" fill="#0000ff"/>
<path d="M631 590h3v1h1v1h1v3h-1v1h-1v1h-3v-1h-1v-1h-1v-3h1v-1h1zM640 552h3v1h1v1h1v3h-1v1h-1v1h-3v-1h-1v-1h-1v-3h1v-1h1zM649 641h3v1h1v1h1v3h-1v1h-1v1h-3v-1h-1v-1h-1v-3h1v-1h1zM658 588h3v1h1v1h1v3h-1v1h-1v1h-3v-1h-1v-1h-1v-3h1v-1h1zM668 586h3v1h1v1h1v3h-1v1h-1v1h-3v-1h-1v-1h-1v-3h1v-1h1zM677 612h3v1h1v1h1v3h-1v1h-1v1h-3v-1h-1v-1h-1v-3h1v-1h1zM686 544h3v1h1v1h1v3h-1v1h-1v1h-3v-1h-1v-1h-1v-3h1v-1h1zM695 573h3v1h1v1h1v3h-1v1h-1v1h-3v-1h-1v-1h-1v-3h1v-1h1zM705 615h3v1h1v1h1v3h-1v1h-1v1h-3v-1h-1v-1h-1v-3h1v-1h1zM714 552h3v1h1v1h1v3h-1v1h-1v1h-3v-1h-1v-1h-1v-3h1v-1h1zM723 527h3v1h1v1h1v3h-1v1h-1v1h-3v-1h-1v-1h-1v-3h1v-1h1zM732 557h3v1h1v1h1v3h-1v1h-1v1h-3v-1h-1v-1h-1v-3h1v-1h1zM742 593h3v1h1v1h1v3h-1v1h-1v1h-3v-1h-1v-1h-1v-3h1v-1h1zM751 621h3v1h1v1h1v3h-1v1h-1v1h-3v-1h-1v-1h-1v-3h1v-1h1zM760 583h3v1h1v1h1v3h-1v1h-1v1h-3v-1h-1v-1h-1v-3h1v-1h1zM769 548h3v1h1v1h1v3h-1v1h-1v1h-3v-1h-1v-1h-1v-3h1v-1h1z" fill="#0000ff"/>
<path d="M780 356h1v13h-1zM781 367h1v22h-1zM782 387h1v22h-1zM783 407h1v23h-1zM784 428h1v22h-1zM785 448h1v22h-1zM786 468h1v23h-1zM787 489h1v22h-1zM788 509h1v22h-1zM789 529h1v13h-1zM790 530h1v8h-1zM791 524h1v8h-1zM792 518h1v8h-1zM793 512h1v8h-1zM794 505h1v9h-1zM795 499h1v8h-1zM796 493h1v8h-1zM797 487h1v8h-1zM798 483h1v7h-1zM799 488h1v12h-1zM800 498h1v12h-1zM801 508h1v11h-1zM802 517h1v12h-1zM803 527h1v12h-1zM804 537h1v11h-1zM805 546h1v12h-1zM806 556h1v12h-1zM807 566h1v7h-1zM808 569h1v3h-1zM809 568h1v3h-1zM810 567h1v3h-1zM811 566h1v3h-1zM812 565h1v3h-1zM813 564h1v3h-1zM814 563h1v3h-1zM815 562h1v3h-1zM816 561h1v3h-1zM817 554h1v9h-1zM818 542h1v14h-1zM819 530h1v14h-1zM820 518h1v14h-1zM821 506h1v14h-1zM822 494h1v14h-1zM823 482h1v14h-1zM824 470h1v14h-1zM825 458h1v14h-1zM826 451h1v12h-1zM827 461h1v20h-1zM828 479h1v21h-1zM829 498h1v20h-1zM830 516h1v20h-1zM831 534h1v21h-1zM832 553h1v20h-1zM833 571h1v21h-1zM834 590h1v20h-1zM835 608h1v12h-1zM836 614h1v4h-1zM837 611h1v5h-1zM838 608h1v5h-1zM839 606h1v4h-1zM840 603h1v5h-1zM841 600h1v5h-1zM842 598h1v4h-1zM843 595h1v5h-1zM844 591h1v6h-1zM845 587h1v6h-1zM846 582h1v7h-1zM847 578h1v6h-1zM848 573h1v7h-1zM849 569h1v6h-1zM850 564h1v7h-1zM851 560h1v6h-1zM852 555h1v7h-1zM853 551h1v6h-1zM854 548h1v7h-1zM855 553h1v12h-1zM856 563h1v12h-1zM857 573h1v12h-1zM858 583h1v12h-1zM859 593h1v12h-1zM860 603h1v12h-1zM861 613h1v12h-1zM862 623h1v12h-1zM863 633h1v8h-1zM864 630h1v8h-1zM865 624h1v8h-1zM866 618h1v8h-1zM867 612h1v8h-1zM868 606h1v8h-1zM869 600h1v8h-1zM870 594h1v8h-1zM871 588h1v8h-1zM872 584h1v6h-1zM873 588h1v8h-1zM874 594h1v9h-1zM875 601h1v8h-1zM876 607h1v9h-1zM877 614h1v9h-1zM878 621h1v8h-1zM879 627h1v9h-1zM880 634h1v8h-1zM881 640h1v6h-1zM882 642h1v3h-1zM883 641h1v3h-1zM884 640h1v3h-1zM885 639h1v3h-1zM886 637h1v4h-1zM887 636h1v3h-1zM888 635h1v3h-1zM889 634h1v3h-1zM890 633h1v3h-1zM891 631h1v4h-1zM892 629h1v4h-1zM893 626h1v5h-1zM894 624h1v4h-1zM895 622h1v4h-1zM896 619h1v5h-1zM897 617h1v4h-1zM898 614h1v5h-1zM899 612h1v4h-1zM900 610h1v4h-1zM901 609h1v3h-1zM902 608h1v3h-1zM903 607h1v3h-1zM904 606h1v3h-1zM905 604h1v4h-1zM906 603h1v3h-1zM907 602h1v3h-1zM908 601h1v3h-1zM909 600h1v5h-1zM910 603h1v6h-1zM911 607h1v6h-1zM912 611h1v6h-1zM913 615h1v6h-1zM914 619h1v7h-1zM915 624h1v6h-1zM916 628h1v6h-1zM917 632h1v6h-1zM918 636h1v5h-1zM919 637h1v3h-1zM920 637h1v3h-1zM921 636h1v3h-1zM922 635h1v3h-1zM923 634h1v3h-1zM924 634h1v3h-1zM925 633h1v3h-1zM926 632h1v3h-1zM927 632h1v3h-1zM928 630h1v4h-1zM929 628h1v4h-1zM930 626h1v4h-1zM931 624h1v4h-1zM932 622h1v4h-1zM933 620h1v4h-1zM934 618h1v4h-1zM935 616h1v4h-1zM936 614h1v4h-1zM937 612h1v4h-1z" fill="#ff0000"/>
<path d="M779 354h3v1h1v1h1v3h-1v1h-1v1h-3v-1h-1v-1h-1v-3h1v-1h1zM788 537h3v1h1v1h1v3h-1v1h-1v1h-3v-1h-1v-1h-1v-3h1v-1h1zM797 481h3v1h1v1h1v3h-1v1h-1v1h-3v-1h-1v-1h-1v-3h1v-1h1zM806 568h3v1h1v1h1v3h-1v1h-1v1h-3v-1h-1v-1h-1v-3h1v-1h1zM816 558h3v1h1v1h1v3h-1v1h-1v1h-3v-1h-1v-1h-1v-3h1v-1h1zM825 449h3v1h1v1h1v3h-1v1h-1v1h-3v-1h-1v-1h-1v-3h1v-1h1zM834 615h3v1h1v1h1v3h-1v1h-1v1h-3v-1h-1v-1h-1v-3h1v-1h1zM843 591h3v1h1v1h1v3h-1v1h-1v1h-3v-1h-1v-1h-1v-3h1v-1h1zM853 546h3v1h1v1h1v3h-1v1h-1v1h-3v-1h-1v-1h-1v-3h1v-1h1zM862 636h3v1h1v1h1v3h-1v1h-1v1h-3v-1h-1v-1h-1v-3h1v-1h1zM871 582h3v1h1v1h1v3h-1v1h-1v1h-3v-1h-1v-1h-1v-3h1v-1h1zM880 641h3v1h1v1h1v3h-1v1h-1v1h-3v-1h-1v-1h-1v-3h1v-1h1zM890 630h3v1h1v1h1v3h-1v1h-1v1h-3v-1h-1v-1h-1v-3h1v-1h1zM899 608h3v1h1v1h1v3h-1v1h-1v1h-3v-1h-1v-1h-1v-3h1v-1h1zM908 598h3v1h1v1h1v3h-1v1h-1v1h-3v-1h-1v-1h-1v-3h1v-1h1zM917 636h3v1h1v1h1v3h-1v1h-1v1h-3v-1h-1v-1h-1v-3h1v-1h1zM927 629h3v1h1v1h1v3h-1v1h-1v1h-3v-1h-1v-1h-1v-3h1v-1h1zM936 610h3v1h1v1h1v3h-1v1h-1v1h-3v-1h-1v-1h-1v-3h1v-1h1z" fill="#ff0000"/>
<rect x="49" y="65" width="11" height="3" fill="#ff0000"/>
<rect x="68" y="65" width="19" height="3" fill="#0000ff"/>
<rect x="96" y="65" width="185" height="3" fill="#ff0000"/>
<rect x="290" y="485" width="38" height="3" fill="#0000ff"/>
<rect x="336" y="537" width="130" height="3" fill="#ff0000"/>
<rect x="475" y="65" width="28" height="3" fill="#0000ff"/>
<rect x="512" y="356" width="56" height="3" fill="#ff0000"/>
<rect x="576" y="88" width="47" height="3" fill="#0000ff"/>
<rect x="632" y="582" width="139" height="3" fill="#ff0000"/>
<rect x="780" y="572" width="158" height="3" fill="#0000ff"/>
<path d="M76 63h3v1h1v1h1v3h-1v1h-1v1h-3v-1h-1v-1h-1v-3h1v-1h1z" fill="#ff0000"/>
<rect x="77" y="65" width="10" height="3" fill="#0000ff"/>
<path d="M113 63h3v1h1v1h1v3h-1v1h-1v1h-3v-1h-1v-1h-1v-3h1v-1h1z" fill="#0000ff"/>
<rect x="114" y="65" width="167" height="3" fill="#ff0000"/>
<path d="M141 63h3v1h1v1h1v3h-1v1h-1v1h-3v-1h-1v-1h-1v-3h1v-1h1z" fill="#0000ff"/>
<rect x="142" y="65" width="139" height="3" fill="#ff0000"/>
<path d="M261 63h3v1h1v1h1v3h-1v1h-1v1h-3v-1h-1v-1h-1v-3h1v-1h1z" fill="#0000ff"/>
<rect x="262" y="65" width="19" height="3" fill="#ff0000"/>
<path d="M760 583h3v1h1v1h1v3h-1v1h-1v1h-3v-1h-1v-1h-1v-3h1v-1h1z" fill="#0000ff"/>
<rect x="761" y="582" width="10" height="3" fill="#ff0000"/>
<path d="M806 568h3v1h1v1h1v3h-1v1h-1v1h-3v-1h-1v-1h-1v-3h1v-1h1z" fill="#ff0000"/>
<rect x="807" y="572" width="131" height="3" fill="#0000ff"/>
</svg></body></html>
